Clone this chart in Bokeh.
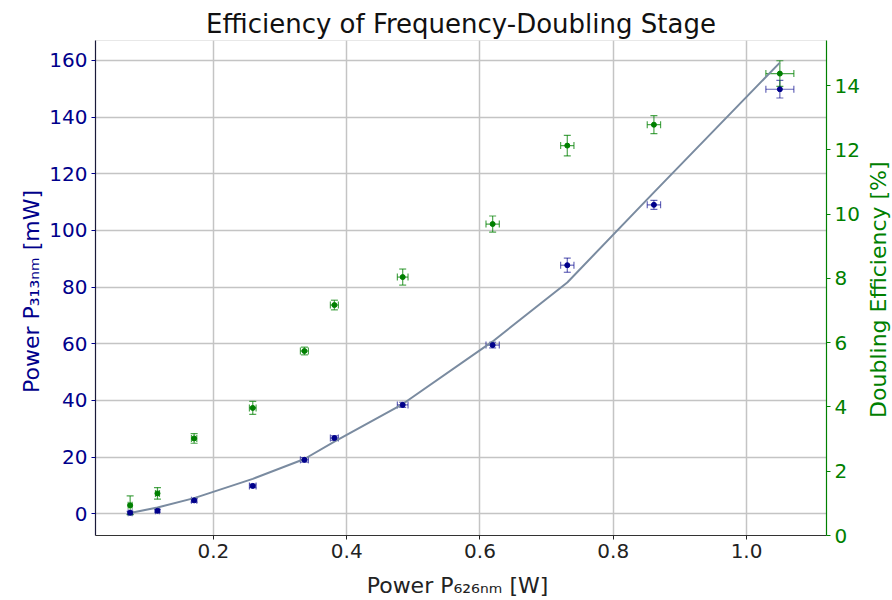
import math
from bokeh.plotting import figure
from bokeh.layouts import row
from bokeh.core.properties import value
from bokeh.models import (Range1d, LinearAxis, FixedTicker, ColumnDataSource, Whisker, TeeHead,
                          PrintfTickFormatter)
from bokeh.embed import file_html
from bokeh.resources import INLINE

# data
p626 = [0.075, 0.116, 0.171, 0.259, 0.3365, 0.3815, 0.484, 0.619, 0.731, 0.861, 1.050]
p626_err = [0.003, 0.003, 0.004, 0.005, 0.006, 0.006, 0.008, 0.010, 0.010, 0.010, 0.021]
p313 = [0.3, 1.0, 4.7, 9.8, 19.0, 26.7, 38.4, 59.5, 87.7, 109.0, 149.8]
p313_err = [0.5, 0.5, 0.6, 0.6, 0.8, 0.8, 0.9, 1.0, 2.5, 1.6, 3.1]
eff = [0.94, 1.31, 3.02, 3.97, 5.74, 7.17, 8.04, 9.69, 12.13, 12.78, 14.37]
eff_err = [0.29, 0.18, 0.15, 0.20, 0.12, 0.15, 0.25, 0.25, 0.32, 0.28, 0.40]
fit = [0.25, 2.2, 5.5, 12.3, 19.3, 25.4, 38.7, 60.8, 81.6, 113.4, 159.2]

x_ticks = [0.2, 0.4, 0.6, 0.8, 1.0]
left_ticks = [0, 20, 40, 60, 80, 100, 120, 140, 160]
right_ticks = [0, 2, 4, 6, 8, 10, 12, 14]
right_title = "Doubling Efficiency [%]"

BLUE = "darkblue"
GREEN = "green"
FONT = "DejaVu Sans"

src = ColumnDataSource(dict(
    x=p626, xlo=[a - b for a, b in zip(p626, p626_err)], xhi=[a + b for a, b in zip(p626, p626_err)],
    y=p313, ylo=[a - b for a, b in zip(p313, p313_err)], yhi=[a + b for a, b in zip(p313, p313_err)],
    e=eff, elo=[a - b for a, b in zip(eff, eff_err)], ehi=[a + b for a, b in zip(eff, eff_err)],
    fit=fit,
))

p = figure(width=864, height=600, output_backend="svg", toolbar_location=None,
           x_range=Range1d(0.023, 1.12), y_range=Range1d(-7.7, 167.0),
           min_border_left=95, min_border_right=38, min_border_top=40, min_border_bottom=63)
p.extra_y_ranges = {"eff": Range1d(0, 15.4)}

p.title.text = "Efficiency of Frequency-Doubling Stage"
p.title.align = "center"
p.title.text_font = FONT
p.title.text_font_size = "26px"
p.title.text_font_style = "normal"
p.title.text_color = "#111111"
p.title.standoff = 4

p.outline_line_color = "#e8e8e8"
p.background_fill_color = "white"
p.border_fill_color = "white"

# grids
p.xgrid.ticker = FixedTicker(ticks=x_ticks)
p.ygrid.ticker = FixedTicker(ticks=left_ticks)
for g in (p.xgrid, p.ygrid):
    g.grid_line_color = "#c4c4c4"
    g.grid_line_width = 1.5

# bottom axis
xa = p.xaxis[0]
xa.ticker = FixedTicker(ticks=x_ticks)
xa.formatter = PrintfTickFormatter(format="%.1f")
xa.axis_label = "Power  P₆₂₆ₙₘ [W]"

# left axis
ya = p.yaxis[0]
ya.ticker = FixedTicker(ticks=left_ticks)
ya.axis_label = "Power  P₃₁₃ₙₘ [mW]"

# right axis (its title is drawn in the narrow strip to the right)
ra = LinearAxis(y_range_name="eff", ticker=FixedTicker(ticks=right_ticks))
p.add_layout(ra, "right")

for ax, col, lc in ((xa, "#222222", "#333333"), (ya, BLUE, "#1a1a3a"), (ra, GREEN, GREEN)):
    ax.major_label_text_font = FONT
    ax.major_label_text_font_size = "20px"
    ax.major_label_text_color = col
    ax.axis_label_text_font = FONT
    ax.axis_label_text_font_size = "22px"
    ax.axis_label_text_font_style = "normal"
    ax.axis_label_text_color = col
    ax.axis_line_color = lc
    ax.axis_line_width = 1.2
    ax.major_tick_line_color = col
    ax.major_tick_in = 0
    ax.major_tick_out = 4
    ax.minor_tick_line_color = None
    ax.major_label_standoff = 4
    ax.axis_label_standoff = 6
xa.axis_label_standoff = 12
ya.axis_label_standoff = 2

# fit line
p.line("x", "fit", source=src, line_color="#7a8ba0", line_width=2)

# blue error bars
p.add_layout(Whisker(source=src, base="x", lower="ylo", upper="yhi", dimension="height",
                     line_color=BLUE, line_alpha=0.6, line_width=1.2,
                     upper_head=TeeHead(size=7, line_color=BLUE, line_alpha=0.6, line_width=1.2),
                     lower_head=TeeHead(size=7, line_color=BLUE, line_alpha=0.6, line_width=1.2)))
p.add_layout(Whisker(source=src, base="y", lower="xlo", upper="xhi", dimension="width",
                     line_color=BLUE, line_alpha=0.6, line_width=1.2,
                     upper_head=TeeHead(size=7, line_color=BLUE, line_alpha=0.6, line_width=1.2),
                     lower_head=TeeHead(size=7, line_color=BLUE, line_alpha=0.6, line_width=1.2)))
p.scatter("x", "y", source=src, size=5, fill_color=BLUE, line_color=BLUE)

# green error bars
p.add_layout(Whisker(source=src, base="x", lower="elo", upper="ehi", dimension="height",
                     y_range_name="eff",
                     line_color=GREEN, line_alpha=0.7, line_width=1.2,
                     upper_head=TeeHead(size=7, line_color=GREEN, line_alpha=0.7, line_width=1.2),
                     lower_head=TeeHead(size=7, line_color=GREEN, line_alpha=0.7, line_width=1.2)))
p.add_layout(Whisker(source=src, base="e", lower="xlo", upper="xhi", dimension="width",
                     y_range_name="eff",
                     line_color=GREEN, line_alpha=0.7, line_width=1.2,
                     upper_head=TeeHead(size=7, line_color=GREEN, line_alpha=0.7, line_width=1.2),
                     lower_head=TeeHead(size=7, line_color=GREEN, line_alpha=0.7, line_width=1.2)))
p.scatter("x", "e", source=src, size=5, fill_color=GREEN, line_color=GREEN, y_range_name="eff")

# narrow strip holding the right-axis title, reading bottom-to-top
side = figure(width=28, height=600, output_backend="svg", toolbar_location=None,
              x_range=Range1d(0, 1), y_range=Range1d(0, 600), min_border=0)
side.axis.visible = False
side.grid.visible = False
side.outline_line_color = None
side.border_fill_color = "white"
side.text(x=[0.5], y=[298], text=[right_title], angle=math.pi / 2,
          text_font=value(FONT), text_font_size="22px", text_color=GREEN,
          text_align="center", text_baseline="middle")

open("out.html", "w").write(file_html(row(p, side, spacing=0), INLINE))
